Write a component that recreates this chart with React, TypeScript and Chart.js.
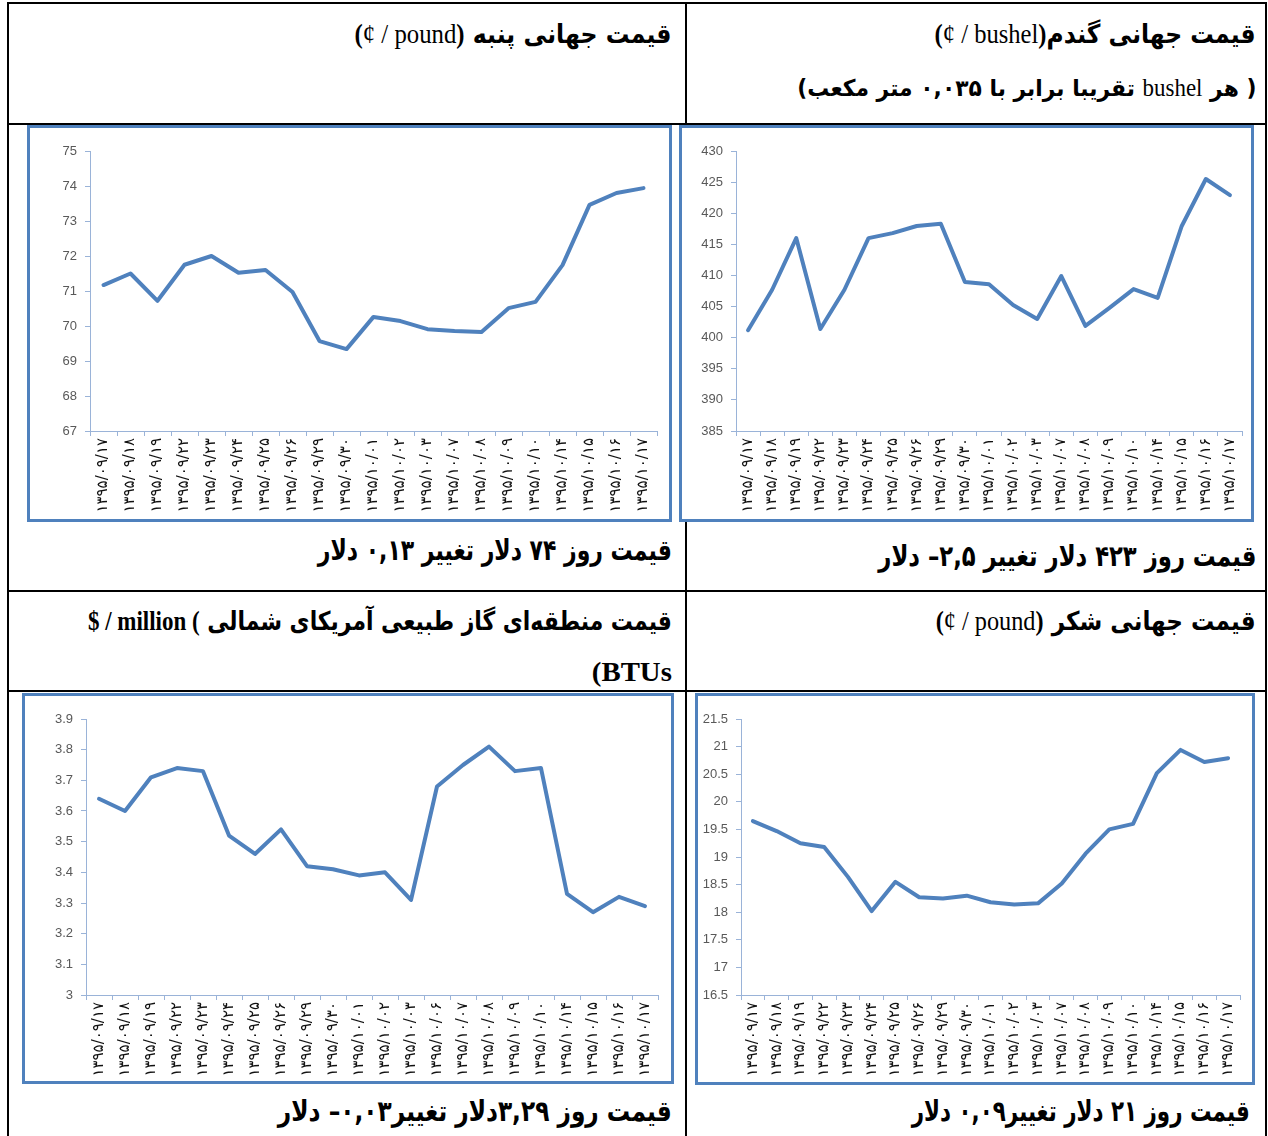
import React, { useEffect, useLayoutEffect, useRef } from "react";
import { Chart, registerables } from "chart.js";
Chart.register(...registerables);

// ---------- data ----------
const datesA = [
  "۱۳۹۵/۰۹/۱۷", "۱۳۹۵/۰۹/۱۸", "۱۳۹۵/۰۹/۱۹", "۱۳۹۵/۰۹/۲۲", "۱۳۹۵/۰۹/۲۳", "۱۳۹۵/۰۹/۲۴",
  "۱۳۹۵/۰۹/۲۵", "۱۳۹۵/۰۹/۲۶", "۱۳۹۵/۰۹/۲۹", "۱۳۹۵/۰۹/۳۰", "۱۳۹۵/۱۰/۰۱", "۱۳۹۵/۱۰/۰۲",
  "۱۳۹۵/۱۰/۰۳", "۱۳۹۵/۱۰/۰۷", "۱۳۹۵/۱۰/۰۸", "۱۳۹۵/۱۰/۰۹", "۱۳۹۵/۱۰/۱۰", "۱۳۹۵/۱۰/۱۴",
  "۱۳۹۵/۱۰/۱۵", "۱۳۹۵/۱۰/۱۶", "۱۳۹۵/۱۰/۱۷",
];
const datesGas = [
  "۱۳۹۵/۰۹/۱۷", "۱۳۹۵/۰۹/۱۸", "۱۳۹۵/۰۹/۱۹", "۱۳۹۵/۰۹/۲۲", "۱۳۹۵/۰۹/۲۳", "۱۳۹۵/۰۹/۲۴",
  "۱۳۹۵/۰۹/۲۵", "۱۳۹۵/۰۹/۲۶", "۱۳۹۵/۰۹/۲۹", "۱۳۹۵/۰۹/۳۰", "۱۳۹۵/۱۰/۰۱", "۱۳۹۵/۱۰/۰۲",
  "۱۳۹۵/۱۰/۰۳", "۱۳۹۵/۱۰/۰۶", "۱۳۹۵/۱۰/۰۷", "۱۳۹۵/۱۰/۰۸", "۱۳۹۵/۱۰/۰۹", "۱۳۹۵/۱۰/۱۰",
  "۱۳۹۵/۱۰/۱۴", "۱۳۹۵/۱۰/۱۵", "۱۳۹۵/۱۰/۱۶", "۱۳۹۵/۱۰/۱۷",
];
const cottonValues = [
  71.17, 71.5, 70.72, 71.75, 72.0, 71.52, 71.6, 70.97, 69.57, 69.34, 70.26, 70.14,
  69.91, 69.86, 69.83, 70.51, 70.69, 71.74, 73.46, 73.8, 73.94,
];
const wheatValues = [
  401.2, 407.7, 416.0, 401.4, 407.7, 416.0, 416.8, 417.95, 418.3, 408.95, 408.6, 405.25,
  403.0, 409.9, 401.9, 404.8, 407.8, 406.4, 417.95, 425.5, 422.9,
];
const gasValues = [
  3.64, 3.6, 3.71, 3.74, 3.73, 3.52, 3.46, 3.54, 3.42, 3.41, 3.39, 3.4, 3.31, 3.68,
  3.75, 3.81, 3.73, 3.74, 3.33, 3.27, 3.32, 3.29,
];
const sugarValues = [
  19.65, 19.47, 19.25, 19.18, 18.64, 18.02, 18.55, 18.27, 18.25, 18.3, 18.18, 18.14,
  18.16, 18.52, 19.06, 19.5, 19.6, 20.52, 20.94, 20.72, 20.79,
];
const cottonAxis = [67, 75, 1];
const wheatAxis = [385, 430, 5];
const gasAxis = [3, 3.9, 0.1];
const sugarAxis = [16.5, 21.5, 0.5];

// ---------- styles ----------
const LINE = "#4F81BD";
const BOX = "#4F81BD";
const AXIS = "#9AB3D8";
const PAGE_W = 1268;
const PAGE_H = 1136;
const FA = '"DejaVu Sans", sans-serif';
const SERIF = '"Liberation Serif", "Times New Roman", serif';

type Rect = [number, number, number, number];

function LineBox(props: {
  box: Rect;
  plot: Rect;
  labels: string[];
  values: number[];
  axis: number[];
}) {
  const ref = useRef<HTMLCanvasElement>(null);
  const { box, plot, labels, values, axis } = props;
  const BW = 3;
  const cl = box[0] + BW,
    ct = box[1] + BW,
    cr = box[2] - BW,
    cb = box[3] - BW;
  const cw = cr - cl,
    ch = cb - ct;
  useEffect(() => {
    const chart = new Chart(ref.current!, {
      type: "line",
      data: {
        labels,
        datasets: [
          {
            data: values,
            borderColor: LINE,
            borderWidth: 4,
            pointRadius: 0,
            tension: 0,
            fill: false,
            borderJoinStyle: "round",
            borderCapStyle: "round",
          },
        ],
      },
      options: {
        animation: false,
        responsive: false,
        maintainAspectRatio: false,
        devicePixelRatio: 1,
        layout: { padding: { top: plot[1] - ct, right: cr - plot[2], left: 0, bottom: 0 } },
        plugins: { legend: { display: false }, tooltip: { enabled: false } },
        scales: {
          x: {
            offset: true,
            grid: { offset: true, drawOnChartArea: false, drawTicks: true, tickLength: 5, color: AXIS },
            border: { color: AXIS, width: 1 },
            ticks: {
              autoSkip: false,
              maxRotation: 90,
              minRotation: 90,
              padding: 2,
              color: "#111",
              font: { family: FA, size: 15 },
            },
            afterFit: (s: any) => {
              s.height = cb - plot[3];
            },
          },
          y: {
            min: axis[0],
            max: axis[1],
            ticks: {
              stepSize: axis[2],
              color: "#595959",
              padding: 8,
              font: { family: '"Liberation Sans", Arial, sans-serif', size: 13 },
              callback: (v: any) => String(Math.round(Number(v) * 100) / 100),
            },
            grid: { drawOnChartArea: false, drawTicks: true, tickLength: 5, color: AXIS },
            border: { color: AXIS, width: 1 },
            afterFit: (s: any) => {
              s.width = plot[0] - cl;
            },
          },
        },
      },
    } as any);
    return () => chart.destroy();
  }, []);
  return (
    <div
      style={{
        position: "absolute",
        left: box[0],
        top: box[1],
        width: box[2] - box[0],
        height: box[3] - box[1],
        border: `${BW}px solid ${BOX}`,
        boxSizing: "border-box",
        background: "#fff",
      }}
    >
      <canvas ref={ref} width={cw} height={ch} style={{ display: "block", width: cw, height: ch }} />
    </div>
  );
}

function FitText(props: {
  right: number;
  cy: number;
  width: number;
  size: number;
  children: React.ReactNode;
}) {
  const ref = useRef<HTMLDivElement>(null);
  const lh = 44;
  useLayoutEffect(() => {
    const fit = () => {
      const el = ref.current;
      if (!el) return;
      el.style.transform = "none";
      const w = el.getBoundingClientRect().width;
      if (w > 0) el.style.transform = `scaleX(${props.width / w})`;
    };
    fit();
    if ((document as any).fonts) (document as any).fonts.ready.then(fit);
  }, []);
  return (
    <div
      ref={ref}
      dir="rtl"
      style={{
        position: "absolute",
        right: PAGE_W - props.right,
        top: props.cy - lh / 2,
        height: lh,
        lineHeight: lh + "px",
        fontSize: props.size,
        fontFamily: FA,
        fontWeight: 700,
        whiteSpace: "nowrap",
        transformOrigin: "right center",
        color: "#000",
      }}
    >
      {props.children}
    </div>
  );
}

const Lat = (p: { children: React.ReactNode; bold?: boolean }) => (
  <bdi dir="ltr" style={{ fontFamily: SERIF, fontWeight: p.bold ? 700 : 400, fontSize: "1.05em" }}>
    {p.children}
  </bdi>
);

const HLine = (p: { x1: number; x2: number; y: number }) => (
  <div style={{ position: "absolute", left: p.x1, top: p.y, width: p.x2 - p.x1, height: 2, background: "#000" }} />
);
const VLine = (p: { x: number; y1: number; y2: number }) => (
  <div style={{ position: "absolute", left: p.x, top: p.y1, width: 2, height: p.y2 - p.y1, background: "#000" }} />
);

export default function App() {
  return (
    <div
      style={{
        position: "absolute",
        left: 0,
        top: 0,
        width: PAGE_W,
        height: PAGE_H,
        overflow: "hidden",
        background: "#fff",
      }}
    >
      <HLine x1={7} x2={1267} y={2} />
      <HLine x1={7} x2={1267} y={123} />
      <HLine x1={7} x2={1267} y={590} />
      <HLine x1={7} x2={1267} y={690} />
      <VLine x={7} y1={2} y2={PAGE_H} />
      <VLine x={685} y1={2} y2={PAGE_H} />
      <VLine x={1265} y1={2} y2={PAGE_H} />

      {/* headers */}
      <FitText right={672} cy={34} width={317} size={26}>
        قیمت جهانی پنبه{"  "}
        <Lat>
          <b>(</b>¢ / pound<b>)</b>
        </Lat>
      </FitText>
      <FitText right={1256} cy={34} width={321} size={26}>
        قیمت جهانی گندم
        <Lat>
          <b>(</b>¢ / bushel<b>)</b>
        </Lat>
      </FitText>
      <FitText right={1256} cy={88} width={459} size={23}>
        ( هر <Lat>bushel</Lat>  تقریبا برابر با ۰,۰۳۵ متر مکعب)
      </FitText>
      <FitText right={1256} cy={621} width={320} size={26}>
        قیمت جهانی شکر{"  "}
        <Lat>
          <b>(</b>¢ / pound<b>)</b>
        </Lat>
      </FitText>
      <FitText right={672} cy={621} width={584} size={26}>
        قیمت منطقه‌ای گاز طبیعی آمریکای شمالی <Lat bold>$ / million (</Lat>
      </FitText>
      <FitText right={672} cy={672} width={80} size={26}>
        <Lat bold>(BTUs</Lat>
      </FitText>

      {/* charts */}
      <LineBox box={[27, 125, 672, 522]} plot={[90, 151, 657, 431]} labels={datesA} values={cottonValues} axis={cottonAxis} />
      <LineBox box={[679, 125, 1254, 522]} plot={[736, 151, 1242, 431]} labels={datesA} values={wheatValues} axis={wheatAxis} />
      <LineBox box={[22, 693, 674, 1084]} plot={[86, 719, 658, 995]} labels={datesGas} values={gasValues} axis={gasAxis} />
      <LineBox box={[695, 693, 1255, 1085]} plot={[741, 719, 1240, 995]} labels={datesA} values={sugarValues} axis={sugarAxis} />

      {/* footers */}
      <FitText right={672} cy={550} width={354} size={29}>
        قیمت روز ۷۴ دلار  تغییر ۰,۱۳ دلار
      </FitText>
      <FitText right={1256} cy={556} width={378} size={29}>
        قیمت روز ۴۲۳ دلار تغییر ۲,۵– دلار
      </FitText>
      <FitText right={672} cy={1111} width={394} size={29}>
        قیمت روز ۳,۲۹دلار  تغییر۰,۰۳– دلار
      </FitText>
      <FitText right={1250} cy={1111} width={338} size={29}>
        قیمت روز ۲۱ دلار  تغییر۰,۰۹ دلار
      </FitText>
    </div>
  );
}
